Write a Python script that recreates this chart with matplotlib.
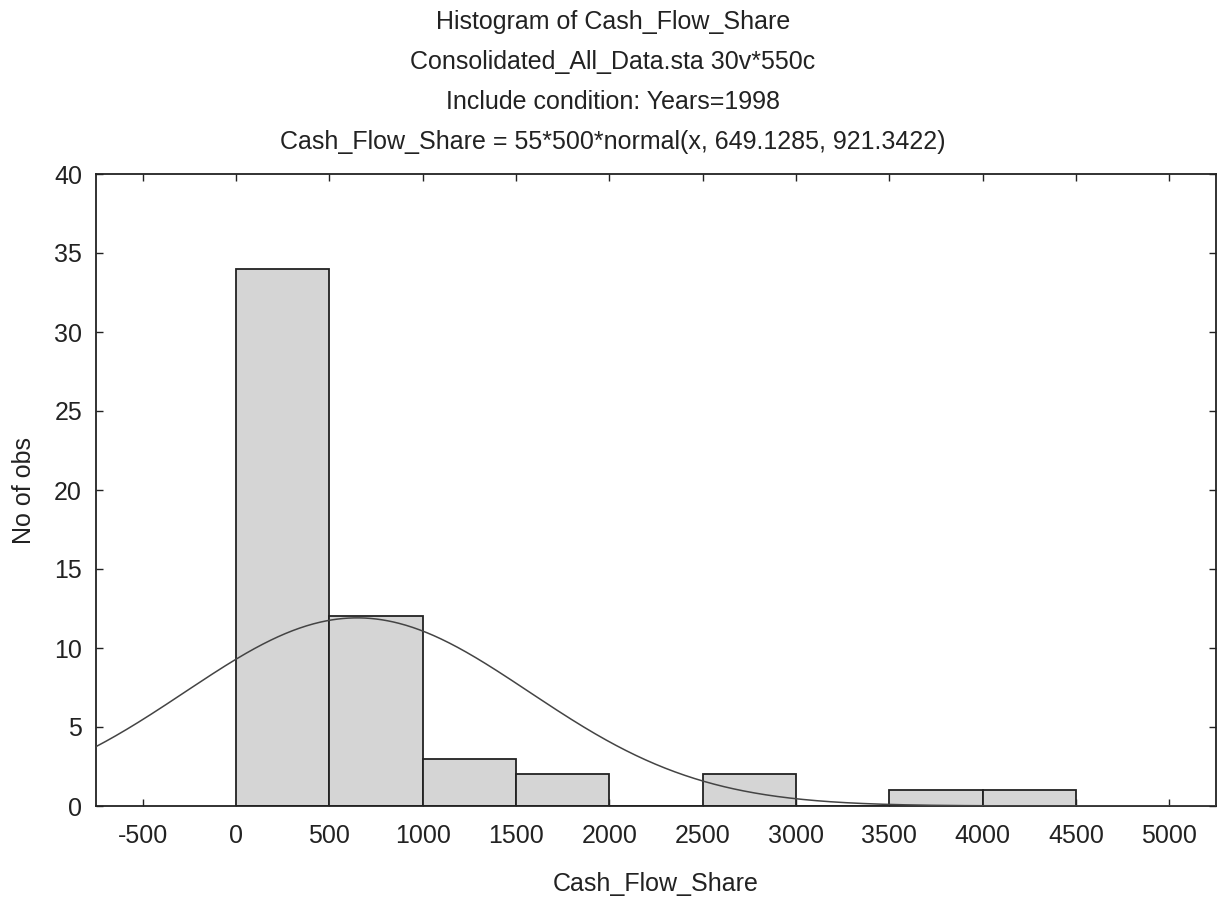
import numpy as np
import matplotlib
matplotlib.use("Agg")
import matplotlib.pyplot as plt

plt.rcParams['font.family'] = ['Liberation Sans', 'DejaVu Sans']

# Data
bin_edges = [0, 500, 1000, 1500, 2000, 2500, 3000, 3500, 4000, 4500]
counts = [34, 12, 3, 2, 0, 2, 0, 1, 1]
n_obs = 55
bin_width = 500
mean = 649.1285
sd = 921.3422
x_ticks = [-500, 0, 500, 1000, 1500, 2000, 2500, 3000, 3500, 4000, 4500, 5000]
x_tick_labels = ["-500", "0", "500", "1000", "1500", "2000", "2500", "3000",
                 "3500", "4000", "4500", "5000"]
y_ticks = [0, 5, 10, 15, 20, 25, 30, 35, 40]
titles = ["Histogram of Cash_Flow_Share",
          "Consolidated_All_Data.sta 30v*550c",
          "Include condition: Years=1998",
          "Cash_Flow_Share = 55*500*normal(x, 649.1285, 921.3422)"]

FS = 18
fig = plt.figure(figsize=(12.21, 8.99), dpi=100)
ax = fig.add_axes([96/1221, 1-806/899, (1216-96)/1221, (806-174)/899])

lefts = np.array(bin_edges[:-1])
widths = np.diff(bin_edges)
ax.bar(lefts, counts, width=widths, align='edge', color='#d5d5d5',
       edgecolor='#222222', linewidth=1.3, zorder=2)

xmin, xmax = -750, 5250
xs = np.linspace(xmin, xmax, 800)
ys = n_obs * bin_width * np.exp(-0.5 * ((xs - mean) / sd) ** 2) / (sd * np.sqrt(2 * np.pi))
ax.plot(xs, ys, color='#444444', linewidth=1.1, zorder=3)

ax.set_xlim(xmin, xmax)
ax.set_ylim(0, 40)
ax.set_xticks(x_ticks)
ax.set_xticklabels(x_tick_labels)
ax.set_yticks(y_ticks)
ax.tick_params(direction='in', length=5, width=1, top=True, right=True,
               labelsize=FS, colors='#222222')
ax.tick_params(axis='x', pad=13)
ax.tick_params(axis='y', pad=10)
for s in ax.spines.values():
    s.set_linewidth(1.3)
    s.set_color('#222222')

ax.set_xlabel("Cash_Flow_Share", fontsize=FS, labelpad=17, color='#222222')
ax.set_ylabel("No of obs", fontsize=FS, labelpad=13, color='#222222')

ys_t = [22, 62, 102, 142]
for t, yp in zip(titles, ys_t):
    fig.text(613/1221, 1 - yp/899, t, ha='center', va='center', fontsize=FS, color='#222222')

fig.savefig("out.png", dpi=100)
